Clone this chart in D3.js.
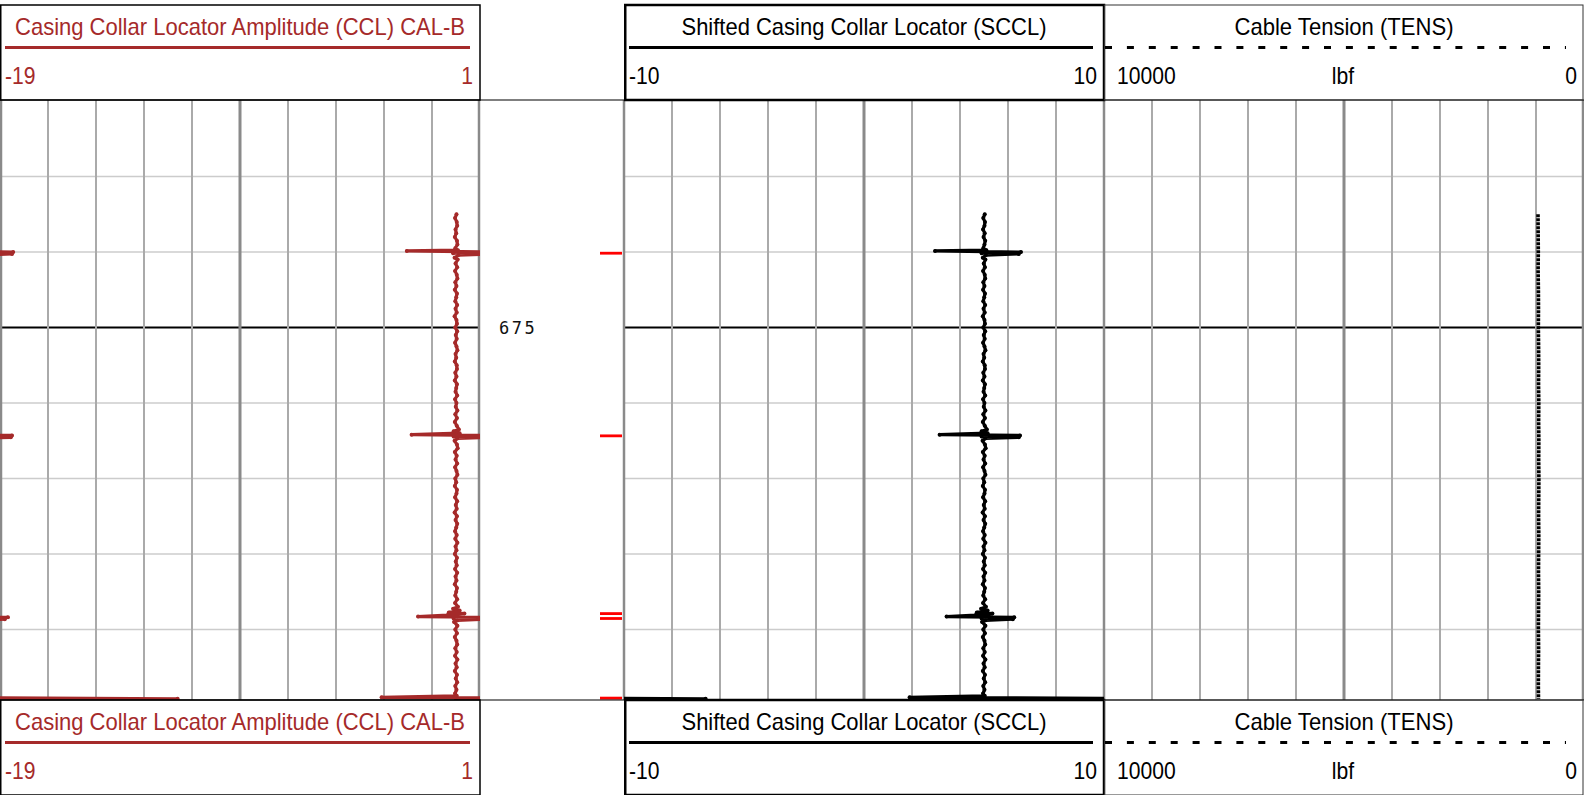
<!DOCTYPE html>
<meta charset="utf-8">
<style>
body {
  margin: 0;
  background: #fff;
}
svg {
  display: block;
}
.title, .scale {
  font-family: "Liberation Sans Narrow", "Arial Narrow", "Liberation Sans", sans-serif;
  font-size: 24px;
}
.depth {
  font-family: "DejaVu Sans Mono", monospace;
  font-size: 17px;
  letter-spacing: 2.5px;
  fill: #111;
}
</style>
<body>
<script src="https://d3js.org/d3.v7.min.js"></script>
<script>

var width = 1584,
    height = 795,
    plotTop = 100,
    plotBottom = 700;

// depth axis (ft)
var depthRange = [668.97, 684.87];
var gridDepths = [671, 673, 675, 677, 679, 681, 683];
var labelDepths = [675];
var collarDepths = [673.03, 677.87, 682.58, 682.71, 684.82];

// scales shown in the headers
var cclScale = [-19, 1];
var scclScale = [-10, 10];
var tensScale = [10000, 0];

// [depth, CCL]
var cclCurve = [
  [672.0,0.02],[672.1,-0.04],[672.2,0.03],[672.3,0.05],[672.4,-0.02],[672.5,0.01],[672.6,-0.05],[672.7,0.04],[672.8,0.06],[672.9,-0.03],
  [672.95,0.08],[672.97,-2.05],[673.0,1.55],[673.03,-0.12],[673.05,1.5],[673.08,0.1],
  [673.15,-0.06],[673.2,0.07],[673.3,-0.02],[673.4,0.05],[673.5,-0.04],[673.6,0.03],[673.7,0.06],[673.8,-0.03],[673.9,0.02],
  [674.0,-0.05],[674.1,0.04],[674.2,0.01],[674.3,-0.03],[674.4,0.05],[674.5,-0.02],[674.6,0.03],[674.7,-0.06],[674.8,0.02],[674.9,0.04],
  [675.0,-0.03],[675.1,0.05],[675.2,-0.01],[675.3,0.03],[675.4,-0.04],[675.5,0.02],[675.6,0.06],[675.7,-0.02],[675.8,0.01],[675.9,-0.05],
  [676.0,0.03],[676.1,0.04],[676.2,-0.03],[676.3,0.02],[676.4,-0.05],[676.5,0.04],[676.6,0.01],[676.7,-0.02],[676.8,0.05],[676.9,-0.04],
  [677.0,0.02],[677.1,-0.01],[677.2,0.06],[677.3,-0.03],[677.4,0.04],[677.5,-0.05],[677.6,0.03],[677.7,0.12],[677.75,-0.1],
  [677.8,0.15],[677.84,-1.85],[677.86,1.5],[677.89,-0.1],[677.91,1.45],[677.94,0.05],
  [678.0,-0.06],[678.1,0.04],[678.2,0.07],[678.3,-0.05],[678.4,0.03],[678.5,-0.02],[678.6,0.05],[678.7,-0.04],[678.8,0.02],[678.9,0.06],
  [679.0,-0.03],[679.1,0.01],[679.2,-0.05],[679.3,0.04],[679.4,0.02],[679.5,-0.04],[679.6,0.05],[679.7,-0.01],[679.8,0.03],[679.9,-0.06],
  [680.0,0.04],[680.1,-0.02],[680.2,0.05],[680.3,0.01],[680.4,-0.04],[680.5,0.03],[680.6,-0.03],[680.7,0.06],[680.8,-0.02],[680.9,0.02],
  [681.0,-0.05],[681.1,0.04],[681.2,-0.01],[681.3,0.03],[681.4,-0.04],[681.5,0.05],[681.6,-0.02],[681.7,0.02],[681.8,-0.05],[681.9,0.04],
  [682.0,0.01],[682.1,-0.03],[682.2,0.05],[682.3,-0.04],[682.4,0.08],[682.45,-0.12],[682.5,0.15],
  [682.55,-0.3],[682.58,0.35],[682.62,-0.35],[682.66,-1.58],[682.68,1.33],[682.71,-0.1],[682.73,1.2],[682.76,0.05],
  [682.8,-0.08],[682.9,0.06],[683.0,-0.03],[683.1,0.04],[683.2,-0.05],[683.3,0.02],[683.4,0.05],[683.5,-0.03],[683.6,0.03],[683.7,-0.04],[683.8,0.06],[683.9,-0.02],
  [684.0,0.03],[684.1,-0.05],[684.2,0.04],[684.3,-0.01],[684.4,0.05],[684.5,-0.03],[684.6,0.02],[684.7,-0.04],[684.76,0.03],
  [684.8,-3.1],[684.84,8.4],[684.88,0.0]
];

// [depth, SCCL]
var scclCurve = [
  [672.0,5.03],[672.1,4.97],[672.2,5.04],[672.3,5.02],[672.4,4.96],[672.5,5.03],[672.6,4.98],[672.7,5.05],[672.8,5.02],[672.9,4.97],
  [672.95,5.1],[672.97,2.96],[673.0,6.54],[673.03,4.9],[673.05,6.45],[673.08,5.08],
  [673.15,4.95],[673.2,5.06],[673.3,4.99],[673.4,5.04],[673.5,4.96],[673.6,5.03],[673.7,5.05],[673.8,4.97],[673.9,5.02],
  [674.0,4.96],[674.1,5.04],[674.2,5.01],[674.3,4.97],[674.4,5.05],[674.5,4.98],[674.6,5.03],[674.7,4.95],[674.8,5.02],[674.9,5.04],
  [675.0,4.97],[675.1,5.05],[675.2,4.99],[675.3,5.03],[675.4,4.96],[675.5,5.02],[675.6,5.06],[675.7,4.98],[675.8,5.01],[675.9,4.95],
  [676.0,5.03],[676.1,5.04],[676.2,4.97],[676.3,5.02],[676.4,4.95],[676.5,5.04],[676.6,5.01],[676.7,4.98],[676.8,5.05],[676.9,4.96],
  [677.0,5.02],[677.1,4.99],[677.2,5.06],[677.3,4.97],[677.4,5.04],[677.5,4.95],[677.6,5.03],[677.7,5.12],[677.75,4.9],
  [677.8,5.15],[677.84,3.15],[677.86,6.5],[677.89,4.9],[677.91,6.45],[677.94,5.05],
  [678.0,4.94],[678.1,5.04],[678.2,5.07],[678.3,4.95],[678.4,5.03],[678.5,4.98],[678.6,5.05],[678.7,4.96],[678.8,5.02],[678.9,5.06],
  [679.0,4.97],[679.1,5.01],[679.2,4.95],[679.3,5.04],[679.4,5.02],[679.5,4.96],[679.6,5.05],[679.7,4.99],[679.8,5.03],[679.9,4.94],
  [680.0,5.04],[680.1,4.98],[680.2,5.05],[680.3,5.01],[680.4,4.96],[680.5,5.03],[680.6,4.97],[680.7,5.06],[680.8,4.98],[680.9,5.02],
  [681.0,4.95],[681.1,5.04],[681.2,4.99],[681.3,5.03],[681.4,4.96],[681.5,5.05],[681.6,4.98],[681.7,5.02],[681.8,4.95],[681.9,5.04],
  [682.0,5.01],[682.1,4.97],[682.2,5.05],[682.3,4.96],[682.4,5.08],[682.45,4.88],[682.5,5.15],
  [682.55,4.7],[682.58,5.35],[682.62,4.65],[682.66,3.44],[682.68,6.26],[682.71,4.9],[682.73,6.2],[682.76,5.05],
  [682.8,4.92],[682.9,5.06],[683.0,4.97],[683.1,5.04],[683.2,4.95],[683.3,5.02],[683.4,5.05],[683.5,4.97],[683.6,5.03],[683.7,4.96],[683.8,5.06],[683.9,4.98],
  [684.0,5.03],[684.1,4.95],[684.2,5.04],[684.3,4.99],[684.4,5.05],[684.5,4.97],[684.6,5.02],[684.7,4.96],[684.76,5.03],
  [684.8,1.9],[684.84,13.4],[684.88,5.0]
];

// [depth, TENS lbf]
var tensCurve = [
  [672.0,958],[672.5,955],[673.0,952],[673.5,956],[674.0,950],[674.5,948],[675.0,951],[675.5,946],[676.0,944],
  [676.5,947],[677.0,942],[677.5,945],[678.0,941],[678.5,944],[679.0,940],[679.5,943],[680.0,946],[680.5,942],
  [681.0,945],[681.5,948],[682.0,944],[682.5,947],[683.0,950],[683.5,946],[684.0,949],[684.5,951],[684.85,948]
];

var tracks = [
  {x0: 0, x1: 480, title: "Casing Collar Locator Amplitude (CCL) CAL-B", color: "#a52a2a",
   scale: cclScale, data: cclCurve, wrap: true, line: {x0: 5, x1: 470, dash: null}, unit: null,
   titleWidth: 450, borderWidth: 1.5, leftPad: 5, rightPad: 7},
  {x0: 624, x1: 1104, title: "Shifted Casing Collar Locator (SCCL)", color: "#000",
   scale: scclScale, data: scclCurve, wrap: true, line: {x0: 629, x1: 1093, dash: null}, unit: null,
   titleWidth: 365, borderWidth: 2.5, leftPad: 5, rightPad: 7},
  {x0: 1104, x1: 1584, title: "Cable Tension (TENS)", color: "#000",
   scale: tensScale, data: tensCurve, wrap: false, line: {x0: 1105, x1: 1566, dash: "7,14.9"}, unit: "lbf",
   titleWidth: 219, borderWidth: 1, leftPad: 13, rightPad: 7}
];

var y = d3.scaleLinear().domain(depthRange).range([plotTop, plotBottom]);

var svg = d3.select("body").append("svg")
    .attr("width", width)
    .attr("height", height);

var defs = svg.append("defs");

tracks.forEach(function(t, i) {
  defs.append("clipPath")
      .attr("id", "clip" + i)
    .append("rect")
      .attr("x", t.x0)
      .attr("y", plotTop)
      .attr("width", t.x1 - t.x0)
      .attr("height", plotBottom - plotTop);
});

// grid
tracks.forEach(function(t, i) {
  var g = svg.append("g").attr("class", "grid");
  var gx = d3.scaleLinear().domain([0, 10]).range([t.x0, t.x1]);

  g.selectAll(".hline")
      .data(gridDepths)
    .enter().append("line")
      .attr("x1", t.x0).attr("x2", t.x1)
      .attr("y1", function(d) { return y(d); })
      .attr("y2", function(d) { return y(d); })
      .attr("stroke", function(d) { return labelDepths.indexOf(d) >= 0 ? "#000" : "#cccccc"; })
      .attr("stroke-width", function(d) { return labelDepths.indexOf(d) >= 0 ? 2 : 1.5; });

  g.selectAll(".vline")
      .data(d3.range(1, 10))
    .enter().append("line")
      .attr("x1", function(d) { return gx(d); })
      .attr("x2", function(d) { return gx(d); })
      .attr("y1", plotTop).attr("y2", plotBottom)
      .attr("stroke", function(d) { return d === 5 ? "#8a8a8a" : "#aaaaaa"; })
      .attr("stroke-width", function(d) { return d === 5 ? 3 : 2; });
});

// track edges
var edges = [1, 479, 624, 1104, 1583];
svg.selectAll(".edge")
    .data(edges)
  .enter().append("line")
    .attr("x1", function(d) { return d; })
    .attr("x2", function(d) { return d; })
    .attr("y1", plotTop).attr("y2", plotBottom)
    .attr("stroke", "#8a8a8a")
    .attr("stroke-width", 2.5);

// depth track
svg.selectAll(".collar")
    .data(collarDepths)
  .enter().append("line")
    .attr("x1", 600).attr("x2", 622)
    .attr("y1", function(d) { return y(d); })
    .attr("y2", function(d) { return y(d); })
    .attr("stroke", "#ff0000")
    .attr("stroke-width", 2.8);

svg.selectAll(".depth")
    .data(labelDepths)
  .enter().append("text")
    .attr("class", "depth")
    .attr("x", 499)
    .attr("y", function(d) { return y(d) + 6.5; })
    .text(function(d) { return d; });

// curves
tracks.forEach(function(t, i) {
  var x = d3.scaleLinear().domain(t.scale).range([t.x0, t.x1]);
  var span = t.scale[1] - t.scale[0];
  var shifts = t.wrap ? [0, span] : [0];
  var g = svg.append("g").attr("clip-path", "url(#clip" + i + ")");

  shifts.forEach(function(s) {
    var line = d3.line()
        .x(function(d) { return x(d[1] - s); })
        .y(function(d) { return y(d[0]); });

    var path = g.append("path")
        .datum(t.data)
        .attr("d", line)
        .attr("fill", "none")
        .attr("stroke", t.color)
        .attr("stroke-linejoin", "round")
        .attr("stroke-linecap", "round");

    if (t.wrap) {
      path.attr("stroke-width", 3.2);
      g.selectAll(".dot" + s)
          .data(t.data)
        .enter().append("circle")
          .attr("cx", function(d) { return x(d[1] - s); })
          .attr("cy", function(d) { return y(d[0]); })
          .attr("r", 2)
          .attr("fill", t.color);
    } else {
      path.attr("stroke-width", 3.6)
          .attr("stroke-linecap", "butt")
          .attr("stroke-dasharray", "3,1");
    }
  });
});

// squeeze header text to the narrow face of the original
function narrow(sel, f) {
  sel.each(function() {
    var w = this.getComputedTextLength();
    d3.select(this)
        .attr("textLength", w * f)
        .attr("lengthAdjust", "spacingAndGlyphs");
  });
}

// headers (top and bottom)
[0, 695].forEach(function(off) {
  svg.append("line")
      .attr("x1", 0).attr("x2", width)
      .attr("y1", off === 0 ? plotTop : plotBottom)
      .attr("y2", off === 0 ? plotTop : plotBottom)
      .attr("stroke", "#000")
      .attr("stroke-width", 1.2);

  tracks.forEach(function(t) {
    var g = svg.append("g").attr("transform", "translate(0," + off + ")");
    var right = Math.min(t.x1, width - 1);

    g.append("rect")
        .attr("x", t.x0 + t.borderWidth / 2)
        .attr("y", 5)
        .attr("width", right - t.x0 - t.borderWidth / 2)
        .attr("height", 95)
        .attr("fill", "none")
        .attr("stroke", t.borderWidth < 1.5 ? "#333" : "#000")
        .attr("stroke-width", t.borderWidth);

    g.append("text")
        .attr("class", "title")
        .attr("x", (t.x0 + t.x1) / 2)
        .attr("y", 35)
        .attr("text-anchor", "middle")
        .attr("fill", t.color)
        .attr("textLength", t.titleWidth)
        .attr("lengthAdjust", "spacingAndGlyphs")
        .text(t.title);

    g.append("line")
        .attr("x1", t.line.x0).attr("x2", t.line.x1)
        .attr("y1", 47.5).attr("y2", 47.5)
        .attr("stroke", t.color)
        .attr("stroke-width", 3)
        .attr("stroke-dasharray", t.line.dash);

    g.append("text")
        .attr("class", "scale")
        .attr("x", t.x0 + t.leftPad)
        .attr("y", 84)
        .attr("fill", t.color)
        .text(t.scale[0])
        .call(narrow, 0.88);

    g.append("text")
        .attr("class", "scale")
        .attr("x", t.x1 - t.rightPad)
        .attr("y", 84)
        .attr("text-anchor", "end")
        .attr("fill", t.color)
        .text(t.scale[1])
        .call(narrow, 0.88);

    if (t.unit) {
      g.append("text")
          .attr("class", "scale")
          .attr("x", (t.x0 + t.x1) / 2 - 1)
          .attr("y", 84)
          .attr("text-anchor", "middle")
          .attr("fill", t.color)
          .text(t.unit)
          .call(narrow, 0.88);
    }
  });
});

</script>
